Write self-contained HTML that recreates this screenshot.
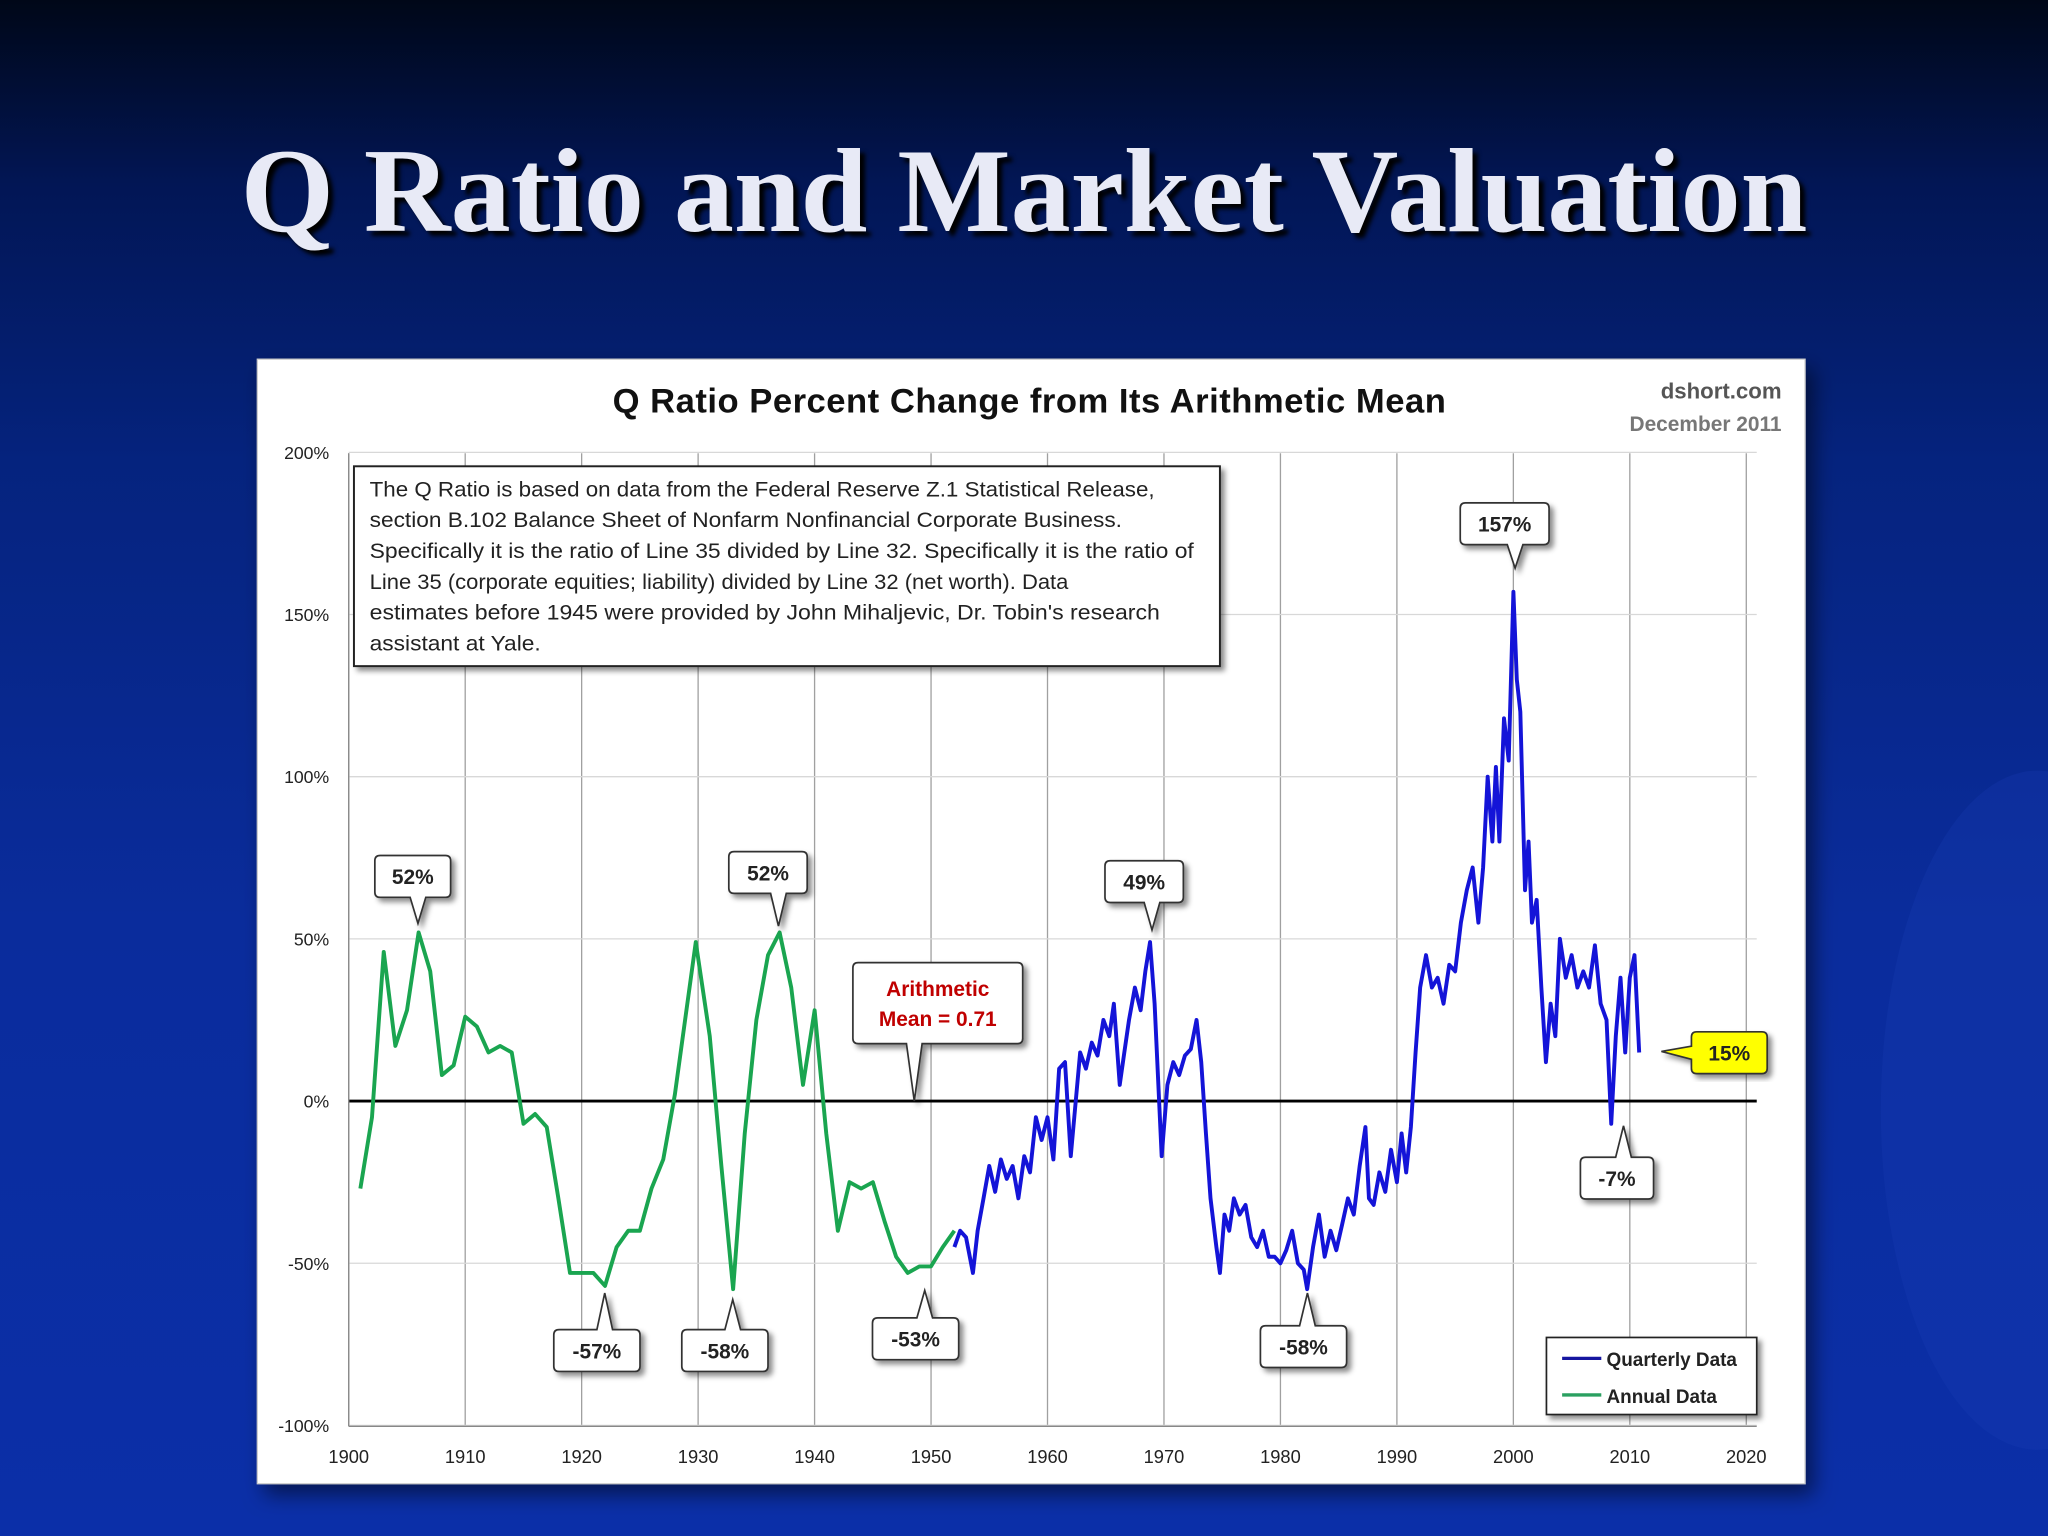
<!DOCTYPE html>
<html><head><meta charset="utf-8">
<style>
html,body{margin:0;padding:0;width:2048px;height:1536px;overflow:hidden;}
body{background:linear-gradient(180deg,#000718 0%,#021655 12%,#05237e 30%,#0a2c9c 60%,#0b2fa8 100%);position:relative;font-family:"Liberation Sans",sans-serif;}
#title{position:absolute;left:0;width:2048px;top:122px;text-align:center;font-family:"Liberation Serif",serif;font-weight:bold;font-size:120px;color:#e8eaf6;text-shadow:5px 5px 4px #000;}
#chart{position:absolute;left:0;top:0;}
</style></head>
<body>
<div id="title">Q Ratio and Market Valuation</div>
<svg id="chart" width="2048" height="1536" viewBox="0 0 1568 1176" xmlns="http://www.w3.org/2000/svg">
<defs><filter id="sh" x="-10%" y="-10%" width="130%" height="130%"><feDropShadow dx="3" dy="3" stdDeviation="2" flood-color="#000" flood-opacity="0.45"/></filter>
<filter id="psh" x="-5%" y="-5%" width="110%" height="110%"><feDropShadow dx="6" dy="8" stdDeviation="8" flood-color="#000" flood-opacity="0.5"/></filter></defs>
<ellipse cx="1560" cy="850" rx="120" ry="260" fill="#1a3fb8" opacity="0.25"/>
<rect x="197" y="275" width="1185" height="861" fill="#fff" stroke="#ccc" filter="url(#psh)"/>
<g id="grid"></g>
<g id="series"></g>
<g id="annot"></g>
</svg>
<script>
const years=[1900,1910,1920,1930,1940,1950,1960,1970,1980,1990,2000,2010,2020];
const yTicks=[200,150,100,50,0,-50,-100];
const annualYears=[1901,1902,1903,1904,1905,1906,1907,1908,1909,1910,1911,1912,1913,1914,1915,1916,1917,1918,1919,1920,1921,1922,1923,1924,1925,1926,1927,1928,1929.8,1931,1932,1933,1934,1935,1936,1937,1938,1939,1940,1941,1942,1943,1944,1945,1946,1947,1948,1949,1950,1951,1952];
const annualVals=[-27,-5,46,17,28,52,40,8,11,26,23,15,17,15,-7,-4,-8,-30,-53,-53,-53,-57,-45,-40,-40,-27,-18,2,49,20,-20,-58,-10,25,45,52,35,5,28,-10,-40,-25,-27,-25,-37,-48,-53,-51,-51,-45,-40];
const qYears=[1952,1952.5,1953,1953.6,1954,1954.5,1955,1955.5,1956,1956.5,1957,1957.5,1958,1958.5,1959,1959.5,1960,1960.5,1961,1961.5,1962,1962.3,1962.8,1963.3,1963.8,1964.3,1964.8,1965.3,1965.7,1966.2,1966.6,1967,1967.5,1968,1968.4,1968.8,1969.2,1969.8,1970.3,1970.8,1971.3,1971.8,1972.3,1972.8,1973.2,1973.6,1974,1974.5,1974.8,1975.2,1975.6,1976,1976.5,1977,1977.5,1978,1978.5,1979,1979.5,1980,1980.5,1981,1981.5,1982,1982.3,1982.8,1983.3,1983.8,1984.3,1984.8,1985.3,1985.8,1986.3,1986.8,1987.3,1987.6,1988,1988.5,1989,1989.5,1990,1990.4,1990.8,1991.2,1991.6,1992,1992.5,1993,1993.5,1994,1994.5,1995,1995.5,1996,1996.5,1997,1997.4,1997.8,1998.2,1998.5,1998.8,1999.2,1999.6,2000,2000.3,2000.6,2001,2001.3,2001.6,2002,2002.4,2002.8,2003.2,2003.6,2004,2004.5,2005,2005.5,2006,2006.5,2007,2007.5,2008,2008.4,2008.8,2009.2,2009.6,2010,2010.4,2010.8,2011.2,2011.6];
const qVals=[-45,-40,-42,-53,-40,-30,-20,-28,-18,-24,-20,-30,-17,-22,-5,-12,-5,-18,10,12,-17,-5,15,10,18,14,25,20,30,5,15,25,35,28,40,49,30,-17,5,12,8,14,16,25,12,-10,-30,-45,-53,-35,-40,-30,-35,-32,-42,-45,-40,-48,-48,-50,-46,-40,-50,-52,-58,-45,-35,-48,-40,-46,-38,-30,-35,-20,-8,-30,-32,-22,-28,-15,-25,-10,-22,-8,15,35,45,35,38,30,42,40,55,65,72,55,72,100,80,103,80,118,105,157,130,120,65,80,55,62,35,12,30,20,50,38,45,35,40,35,48,30,25,-7,20,38,15,38,45,15];
const mean=[0.71];
const X=v=>267+(v-1900)*(1337-267)/120;
function Yf(v){return 843 - v*(1092-347)/300;}
const NS="http://www.w3.org/2000/svg";
function mk(tag,attrs,parent,txt){const e=document.createElementNS(NS,tag);for(const k in attrs)e.setAttribute(k,attrs[k]);if(txt!==undefined)e.textContent=txt;parent.appendChild(e);return e;}
const grid=document.getElementById('grid'),series=document.getElementById('series'),annot=document.getElementById('annot');
years.forEach(yr=>{
  const l=mk('line',{x1:X(yr),x2:X(yr),y1:347,y2:1092,stroke:'#a0a0a0','stroke-width':1},grid);
  
  
  const t=mk('text',{x:X(yr),y:1120,'text-anchor':'middle','font-size':14,fill:'#222'},grid,String(yr));
  
  
});
yTicks.forEach(v=>{
  const l=mk('line',{x1:267,x2:1345,y1:Yf(v),y2:Yf(v),stroke:v===0?'#000':'#d8d8d8','stroke-width':v===0?2.2:1},grid);
  
  
  const t=mk('text',{x:252,y:Yf(v)+5,'text-anchor':'end','font-size':13.5,fill:'#222'},grid,v+'%');
  
  
});
mk('line',{x1:267,x2:267,y1:347,y2:1092,stroke:'#888'},grid);
mk('line',{x1:267,x2:1345,y1:1092,y2:1092,stroke:'#888'},grid);
function path(xs,vs,col,name){
  const d=xs.map((x,i)=>(i?'L':'M')+X(x).toFixed(1)+','+Yf(vs[i]).toFixed(1)).join(' ');
  const p=mk('path',{d:d,fill:'none',stroke:col,'stroke-width':3,'stroke-linejoin':'round'},series);
  
  
}
path(annualYears,annualVals,'#1aa550','annual-data-line');
path(qYears,qVals,'#1414d8','quarterly-data-line');
const tt=mk('text',{x:788,y:316,'text-anchor':'middle','font-size':26.5,'font-weight':'bold',fill:'#111',textLength:638},annot,'Q Ratio Percent Change from Its Arithmetic Mean');

const s1=mk('text',{x:1364,y:305,'text-anchor':'end','font-size':17,'font-weight':'bold',fill:'#555'},annot,'dshort.com');

const s2=mk('text',{x:1364,y:330,'text-anchor':'end','font-size':16,'font-weight':'bold',fill:'#777'},annot,'December 2011');

const ib=mk('rect',{x:271,y:357,width:663,height:153,fill:'#fff',stroke:'#222','stroke-width':1.5,filter:'url(#sh)'},annot);

[['The Q Ratio is based on data from the Federal Reserve Z.1 Statistical Release,',601],['section B.102 Balance Sheet of Nonfarm Nonfinancial Corporate Business.',576],['Specifically it is the ratio of Line 35 divided by Line 32. Specifically it is the ratio of',631],['Line 35 (corporate equities; liability) divided by Line 32 (net worth). Data',535],['estimates before 1945 were provided by John Mihaljevic, Dr. Tobin\'s research',605],['assistant at Yale.',131]].forEach((s,i)=>{
  const t=mk('text',{x:283,y:380+i*23.6,'font-size':16,fill:'#222',textLength:s[1],lengthAdjust:'spacingAndGlyphs'},annot,s[0]);
  
});
function callout(x,y,w,h,tx,ty,lines,col,fill,name){
  const g=mk('g',{filter:'url(#sh)'},annot);
  
  
  const bx=Math.min(Math.max(tx,x+10),x+w-10);
  let d;
  if(ty<y){d=`M${x+4},${y} L${bx-6},${y} L${tx},${ty} L${bx+6},${y} L${x+w-4},${y} Q${x+w},${y} ${x+w},${y+4} L${x+w},${y+h-4} Q${x+w},${y+h} ${x+w-4},${y+h} L${x+4},${y+h} Q${x},${y+h} ${x},${y+h-4} L${x},${y+4} Q${x},${y} ${x+4},${y}Z`;}
  else if(tx<x){d=`M${x+4},${y} L${x+w-4},${y} Q${x+w},${y} ${x+w},${y+4} L${x+w},${y+h-4} Q${x+w},${y+h} ${x+w-4},${y+h} L${x+4},${y+h} Q${x},${y+h} ${x},${y+h-4} L${x},${y+h/2+5} L${tx},${ty} L${x},${y+h/2-5} L${x},${y+4} Q${x},${y} ${x+4},${y}Z`;}
  else{d=`M${x+4},${y} L${x+w-4},${y} Q${x+w},${y} ${x+w},${y+4} L${x+w},${y+h-4} Q${x+w},${y+h} ${x+w-4},${y+h} L${bx+6},${y+h} L${tx},${ty} L${bx-6},${y+h} L${x+4},${y+h} Q${x},${y+h} ${x},${y+h-4} L${x},${y+4} Q${x},${y} ${x+4},${y}Z`;}
  mk('path',{d:d,fill:fill,stroke:'#333','stroke-width':1.3},g);
  lines.forEach((s,i)=>mk('text',{x:x+w/2,y:y+h/2+6+(i-(lines.length-1)/2)*23,'text-anchor':'middle','font-size':16,'font-weight':'bold',fill:col},g,s));
}
callout(287,655,58,32,320,707,['52%'],'#222','#fff','callout-52-1906');
callout(558,652,60,32,596,709,['52%'],'#222','#fff','callout-52-1937');
callout(846,659,60,32,882,712,['49%'],'#222','#fff','callout-49-1969');
callout(1118,385,68,32,1160,435,['157%'],'#222','#fff','callout-157-2000');
callout(424,1018,66,32,463,990,['-57%'],'#222','#fff','callout-neg57');
callout(522,1018,66,32,561,995,['-58%'],'#222','#fff','callout-neg58-1933');
callout(668,1009,66,32,708,988,['-53%'],'#222','#fff','callout-neg53');
callout(965,1015,66,32,1001,990,['-58%'],'#222','#fff','callout-neg58-1982');
callout(1210,886,56,32,1243,862,['-7%'],'#222','#fff','callout-neg7');
callout(653,737,130,62,700,843,['Arithmetic','Mean = '+mean[0]],'#c00000','#fff','mean-callout');
callout(1295,790,58,32,1272,805,['15%'],'#222','#ffff00','callout-15-current');
const lg=mk('g',{filter:'url(#sh)'},annot);

mk('rect',{x:1184,y:1024,width:161,height:59,fill:'#fff',stroke:'#222','stroke-width':1.3},lg);
[['Quarterly Data','#1414a0'],['Annual Data','#2aa060']].forEach((e,i)=>{
  const g=mk('g',{},lg);
  
  mk('line',{x1:1196,x2:1226,y1:1040+i*28,y2:1040+i*28,stroke:e[1],'stroke-width':2.5},g);
  mk('text',{x:1230,y:1046+i*28,'font-size':14.5,'font-weight':'bold',fill:'#222'},g,e[0]);
});
</script>
</body></html>
